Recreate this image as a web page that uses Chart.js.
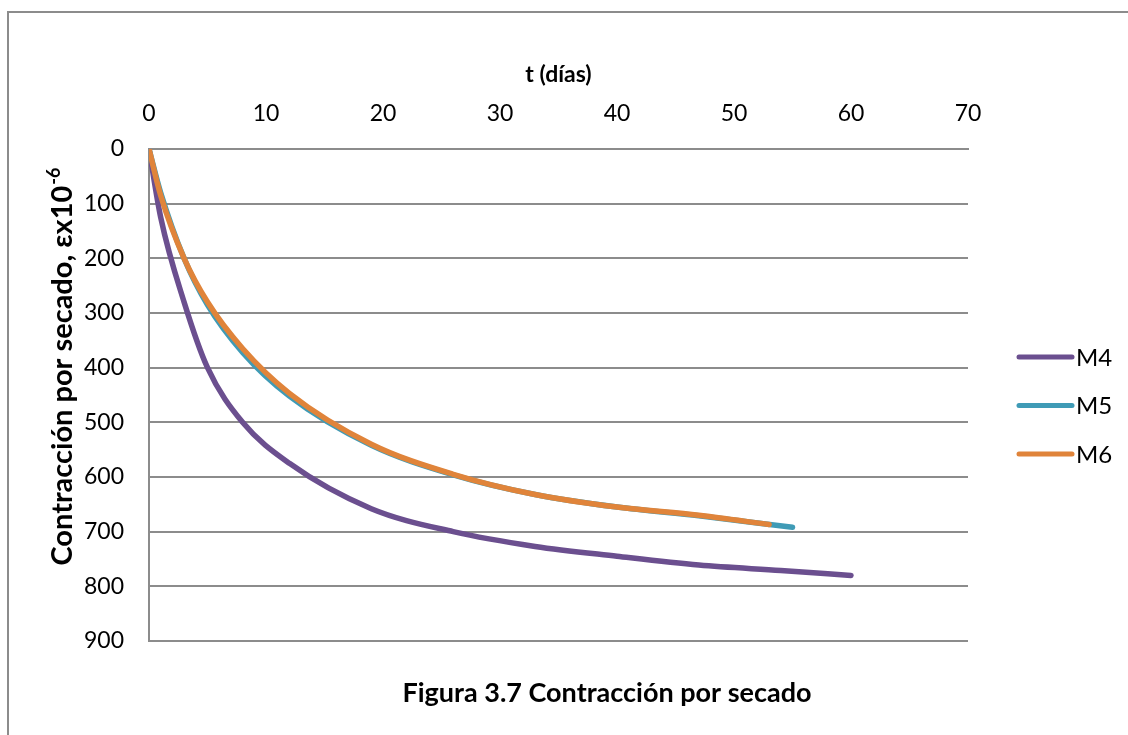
<!DOCTYPE html>
<html>
<head>
<meta charset="utf-8">
<script src="https://cdn.jsdelivr.net/npm/chart.js@4.4.1/dist/chart.umd.min.js"></script>
<style>
  body { margin: 0; background: #fff; }
  #wrap { width: 1128px; height: 735px; }
</style>
</head>
<body>
<div id="wrap"><canvas id="shrinkChart" width="1128" height="735"></canvas></div>
<script>
// days of measurement and drying shrinkage (microstrain) per mix
const daysM4 = [0, 1, 3, 5, 8, 12, 19, 26, 33, 40, 47, 54, 60];
const shrinkM4 = [0, 125, 280, 400, 500, 575, 658, 700, 727, 745, 761, 771, 780];
const daysM5 = [0, 1, 3, 5, 8, 12, 19, 26, 33, 40, 47, 55];
const shrinkM5 = [0, 80, 200, 285, 372, 452, 542, 596, 632, 655, 671, 692];
const daysM6 = [0, 1, 3, 5, 8, 12, 19, 26, 33, 40, 47, 53];
const shrinkM6 = [0, 85, 200, 280, 365, 447, 540, 595, 632, 655, 670, 687];
const seriesNames = ['M4', 'M5', 'M6'];
const xTicks = [0, 10, 20, 30, 40, 50, 60, 70];
const yTicks = [0, 100, 200, 300, 400, 500, 600, 700, 800, 900];

const FONT = 'Lato, "Open Sans", sans-serif';
const colors = ['#6B4F8F', '#3F9BB6', '#E0843A'];

function toPoints(xs, ys) {
    return xs.map((x, i) => ({ x: x, y: ys[i] }));
}

// white page, outer frame, y title with superscript, legend and caption
const decorations = {
    id: 'decorations',
    beforeDraw(chart) {
        const ctx = chart.ctx;
        ctx.save();
        ctx.fillStyle = '#fff';
        ctx.fillRect(0, 0, chart.width, chart.height);
        ctx.strokeStyle = '#8c8c8c';
        ctx.lineWidth = 2;
        ctx.strokeRect(8, 12, chart.width + 20, chart.height + 20);
        ctx.restore();
    },
    afterDraw(chart) {
        const ctx = chart.ctx;
        const area = chart.chartArea;
        const midY = (area.top + area.bottom) / 2;
        ctx.save();

        // y axis title, rotated, "-6" as superscript
        const main = 'Contracción por secado, εx10';
        const sup = '-6';
        ctx.font = 'bold 29px ' + FONT;
        const wMain = ctx.measureText(main).width;
        ctx.font = 'bold 18px ' + FONT;
        const wSup = ctx.measureText(sup).width;
        ctx.translate(62, 367);
        ctx.rotate(-Math.PI / 2);
        ctx.fillStyle = '#000';
        ctx.textBaseline = 'middle';
        ctx.textAlign = 'left';
        const start = -(wMain + wSup) / 2;
        ctx.font = 'bold 29px ' + FONT;
        ctx.fillText(main, start, 1);
        ctx.font = 'bold 18px ' + FONT;
        ctx.fillText(sup, start + wMain + 1, -8);
        ctx.setTransform(1, 0, 0, 1, 0, 0);

        // legend
        ctx.font = '24px ' + FONT;
        chart.data.datasets.forEach((ds, i) => {
            const y = midY - 38 + i * 48.5;
            const x0 = area.right + 51;
            ctx.strokeStyle = ds.borderColor;
            ctx.lineWidth = 5;
            ctx.lineCap = 'round';
            ctx.beginPath();
            ctx.moveTo(x0, y);
            ctx.lineTo(x0 + 53, y);
            ctx.stroke();
            ctx.fillStyle = '#000';
            ctx.fillText(ds.label, x0 + 57, y + 1);
        });

        // caption
        ctx.font = 'bold 27px ' + FONT;
        ctx.textAlign = 'center';
        ctx.fillText('Figura 3.7 Contracción por secado', 607, 693);
        ctx.restore();
    }
};

const ctx = document.getElementById('shrinkChart').getContext('2d');
const shrinkChart = new Chart(ctx, {
    type: 'line',
    data: {
        datasets: [
            { label: seriesNames[0], data: toPoints(daysM4, shrinkM4), borderColor: colors[0], order: 2 },
            { label: seriesNames[1], data: toPoints(daysM5, shrinkM5), borderColor: colors[1], order: 1 },
            { label: seriesNames[2], data: toPoints(daysM6, shrinkM6), borderColor: colors[2], order: 0 }
        ].map(ds => Object.assign(ds, {
            backgroundColor: ds.borderColor,
            borderWidth: 5.5,
            borderCapStyle: 'round',
            borderJoinStyle: 'round',
            pointRadius: 0,
            cubicInterpolationMode: 'monotone',
            fill: false
        }))
    },
    plugins: [decorations],
    options: {
        responsive: false,
        animation: false,
        layout: { padding: { left: 0, top: 0, right: 160, bottom: 94 } },
        plugins: {
            legend: { display: false },
            tooltip: { enabled: false }
        },
        scales: {
            x: {
                type: 'linear',
                position: 'top',
                min: xTicks[0],
                max: xTicks[xTicks.length - 1],
                afterBuildTicks: s => { s.ticks = xTicks.map(v => ({ value: v })); },
                afterFit: s => { s.height = 149; },
                grid: { display: false, drawTicks: false },
                border: { display: true, color: '#8c8c8c', width: 2 },
                ticks: { color: '#000', font: { family: FONT, size: 23 }, padding: 22, maxRotation: 0 },
                title: {
                    display: true,
                    text: 't (días)',
                    color: '#000',
                    font: { family: FONT, size: 23, weight: 'bold' },
                    padding: { top: 61, bottom: 0 }
                }
            },
            y: {
                type: 'linear',
                reverse: true,
                min: yTicks[0],
                max: yTicks[yTicks.length - 1],
                afterBuildTicks: s => { s.ticks = yTicks.map(v => ({ value: v })); },
                afterFit: s => { s.width = 149; },
                grid: { color: '#8c8c8c', lineWidth: 2, drawTicks: false },
                border: { display: true, color: '#8c8c8c', width: 2 },
                ticks: { color: '#000', font: { family: FONT, size: 23 }, padding: 25 }
            }
        }
    }
});
</script>
</body>
</html>
